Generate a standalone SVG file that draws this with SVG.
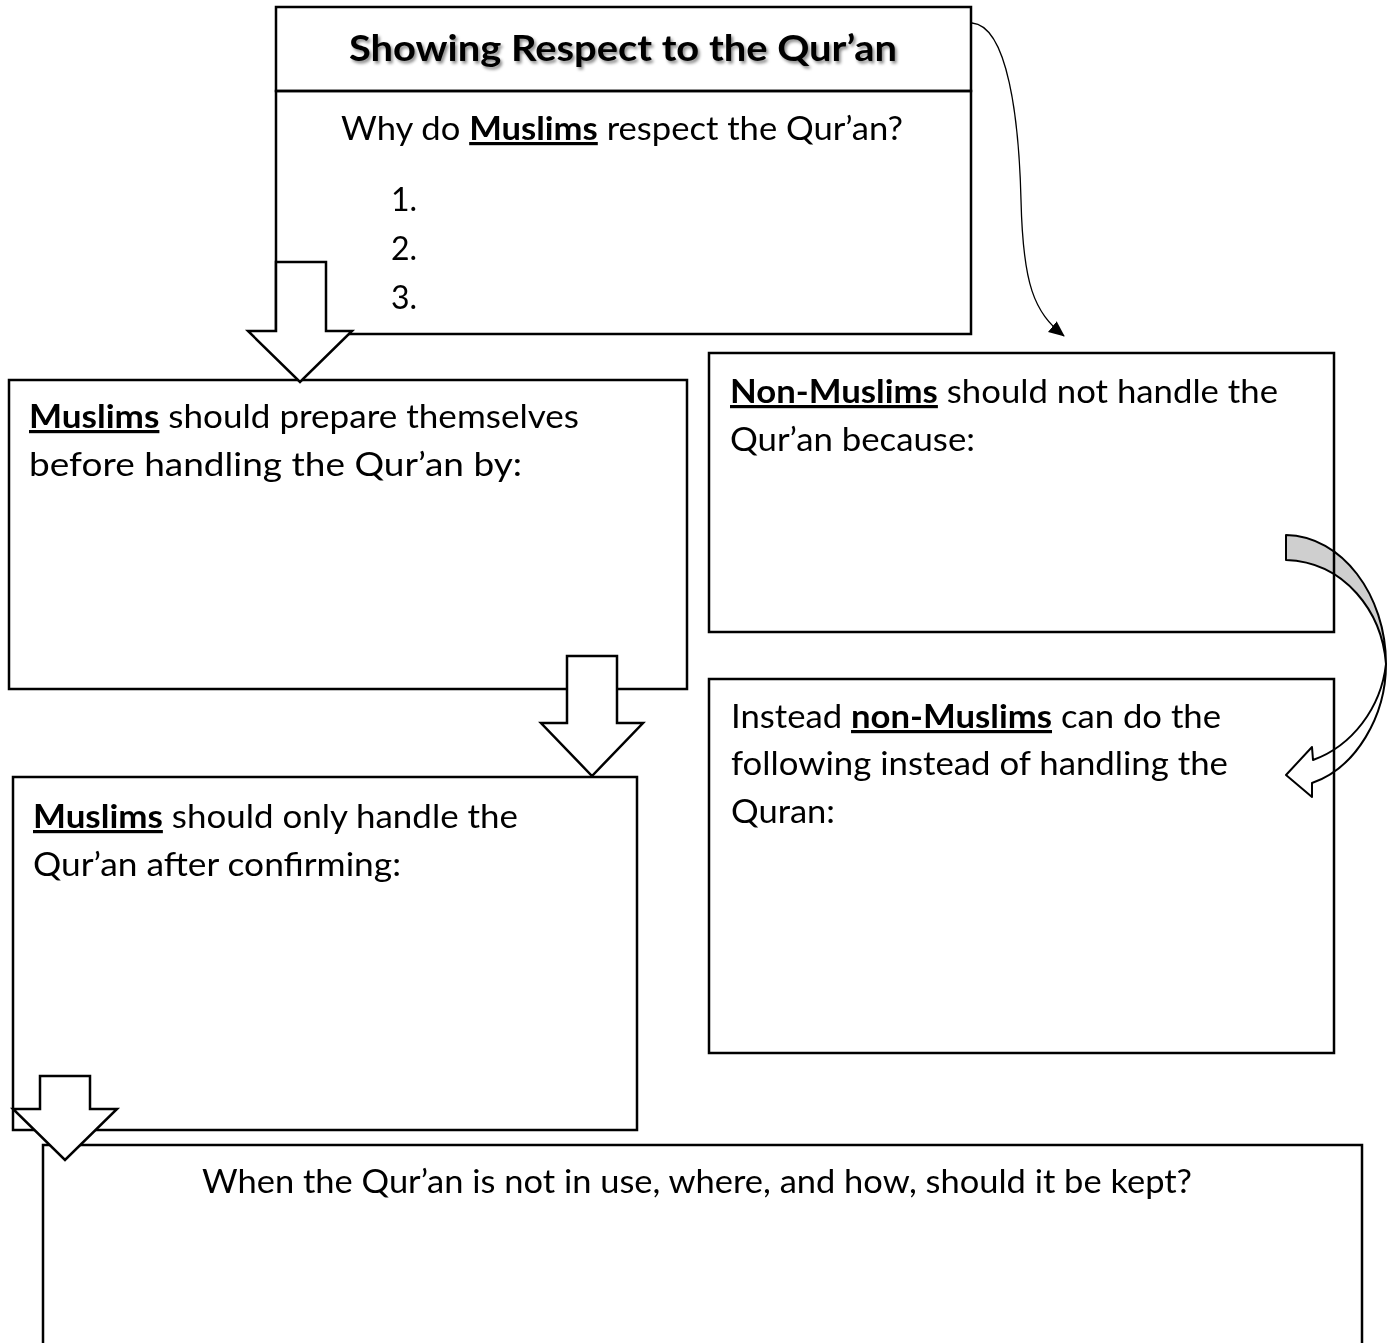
<svg xmlns="http://www.w3.org/2000/svg" width="1389" height="1343" viewBox="0 0 1389 1343">
<style>
.box{fill:none;stroke:#000;stroke-width:2.5}
.blk{fill:#fff;stroke:#000;stroke-width:2.5;stroke-linejoin:miter}
.t{font-family:Lato,"Open Sans","Liberation Sans",sans-serif;font-size:32px;fill:#000}
.u{font-weight:bold;text-decoration:underline}
.title{font-family:Lato,"Open Sans","Liberation Sans",sans-serif;font-size:37px;font-weight:bold;fill:#000}
</style>
<defs>
<filter id="sh" x="-5%" y="-30%" width="110%" height="160%">
<feDropShadow dx="2" dy="2.5" stdDeviation="1.5" flood-color="#000" flood-opacity="0.45"/>
</filter>
<marker id="ah" markerWidth="16" markerHeight="14" refX="15" refY="7" orient="auto" markerUnits="userSpaceOnUse">
<path d="M0,0 L16,7 L0,14 Z" fill="#000"/>
</marker>
</defs>
<rect width="1389" height="1343" fill="#fff"/>

<g id="node-title">
<rect class="box" x="276" y="7" width="695" height="84"/>
<text class="title" x="349" y="61" textLength="548" lengthAdjust="spacingAndGlyphs" filter="url(#sh)">Showing Respect to the Qur’an</text>
</g>
<g id="node-why">
<rect class="box" x="276" y="91" width="695" height="243"/>
<text class="t" x="341" y="140" textLength="562" lengthAdjust="spacingAndGlyphs">Why do <tspan class="u">Muslims</tspan> respect the Qur’an?</text>
<text class="t" x="391" y="211">1.</text>
<text class="t" x="391" y="260">2.</text>
<text class="t" x="391" y="309">3.</text>
</g>
<g id="node-prepare">
<rect class="box" x="9" y="380" width="678" height="309"/>
<text class="t" x="29" y="428" textLength="550" lengthAdjust="spacingAndGlyphs"><tspan class="u">Muslims</tspan> should prepare themselves</text>
<text class="t" x="29" y="476" textLength="493" lengthAdjust="spacingAndGlyphs">before handling the Qur’an by:</text>
</g>
<g id="node-nonmuslims">
<rect class="box" x="709" y="353" width="625" height="279"/>
<text class="t" x="730" y="403" textLength="548" lengthAdjust="spacingAndGlyphs"><tspan class="u">Non-Muslims</tspan> should not handle the</text>
<text class="t" x="730" y="451" textLength="245" lengthAdjust="spacingAndGlyphs">Qur’an because:</text>
</g>
<g id="node-instead">
<rect class="box" x="709" y="679" width="625" height="374"/>
<text class="t" x="731" y="728" textLength="490" lengthAdjust="spacingAndGlyphs">Instead <tspan class="u">non-Muslims</tspan> can do the</text>
<text class="t" x="731" y="775" textLength="497" lengthAdjust="spacingAndGlyphs">following instead of handling the</text>
<text class="t" x="731" y="823" textLength="104" lengthAdjust="spacingAndGlyphs">Quran:</text>
</g>
<g id="node-only">
<rect class="box" x="13" y="777" width="624" height="353"/>
<text class="t" x="33" y="828" textLength="485" lengthAdjust="spacingAndGlyphs"><tspan class="u">Muslims</tspan> should only handle the</text>
<text class="t" x="33" y="876" textLength="368" lengthAdjust="spacingAndGlyphs">Qur’an after confirming:</text>
</g>
<g id="node-kept">
<rect class="box" x="43" y="1145" width="1319" height="230"/>
<text class="t" x="202" y="1193" textLength="990" lengthAdjust="spacingAndGlyphs">When the Qur’an is not in use, where, and how, should it be kept?</text>
</g>

<g id="connectors">
<path d="M972,23 C1008,26 1019,120 1021,200 C1023,285 1034,312 1064,336" fill="none" stroke="#000" stroke-width="1.3" marker-end="url(#ah)"/>
<g style="mix-blend-mode:multiply" stroke="#000" stroke-width="2" stroke-linejoin="round">
<path d="M1286,535 C1342,536 1386,595 1386,664 C1382,612 1345,562 1286,560 Z" fill="#cfcfcf"/>
<path d="M1386,664 C1386,716 1356,768 1312,783 L1312,797 L1286,775 L1312,747 L1313,760 C1352,746 1381,708 1386,664 Z" fill="#fff"/>
</g>
<path class="blk" d="M276,262 H326 V331 H352 L300,382 L248,331 H276 Z"/>
<path class="blk" d="M567,656 H617 V723 H643 L592,776 L541,723 H567 Z"/>
<path class="blk" d="M40,1076 H90 V1109 H117 L65,1160 L13,1109 H40 Z"/>
</g>
</svg>
